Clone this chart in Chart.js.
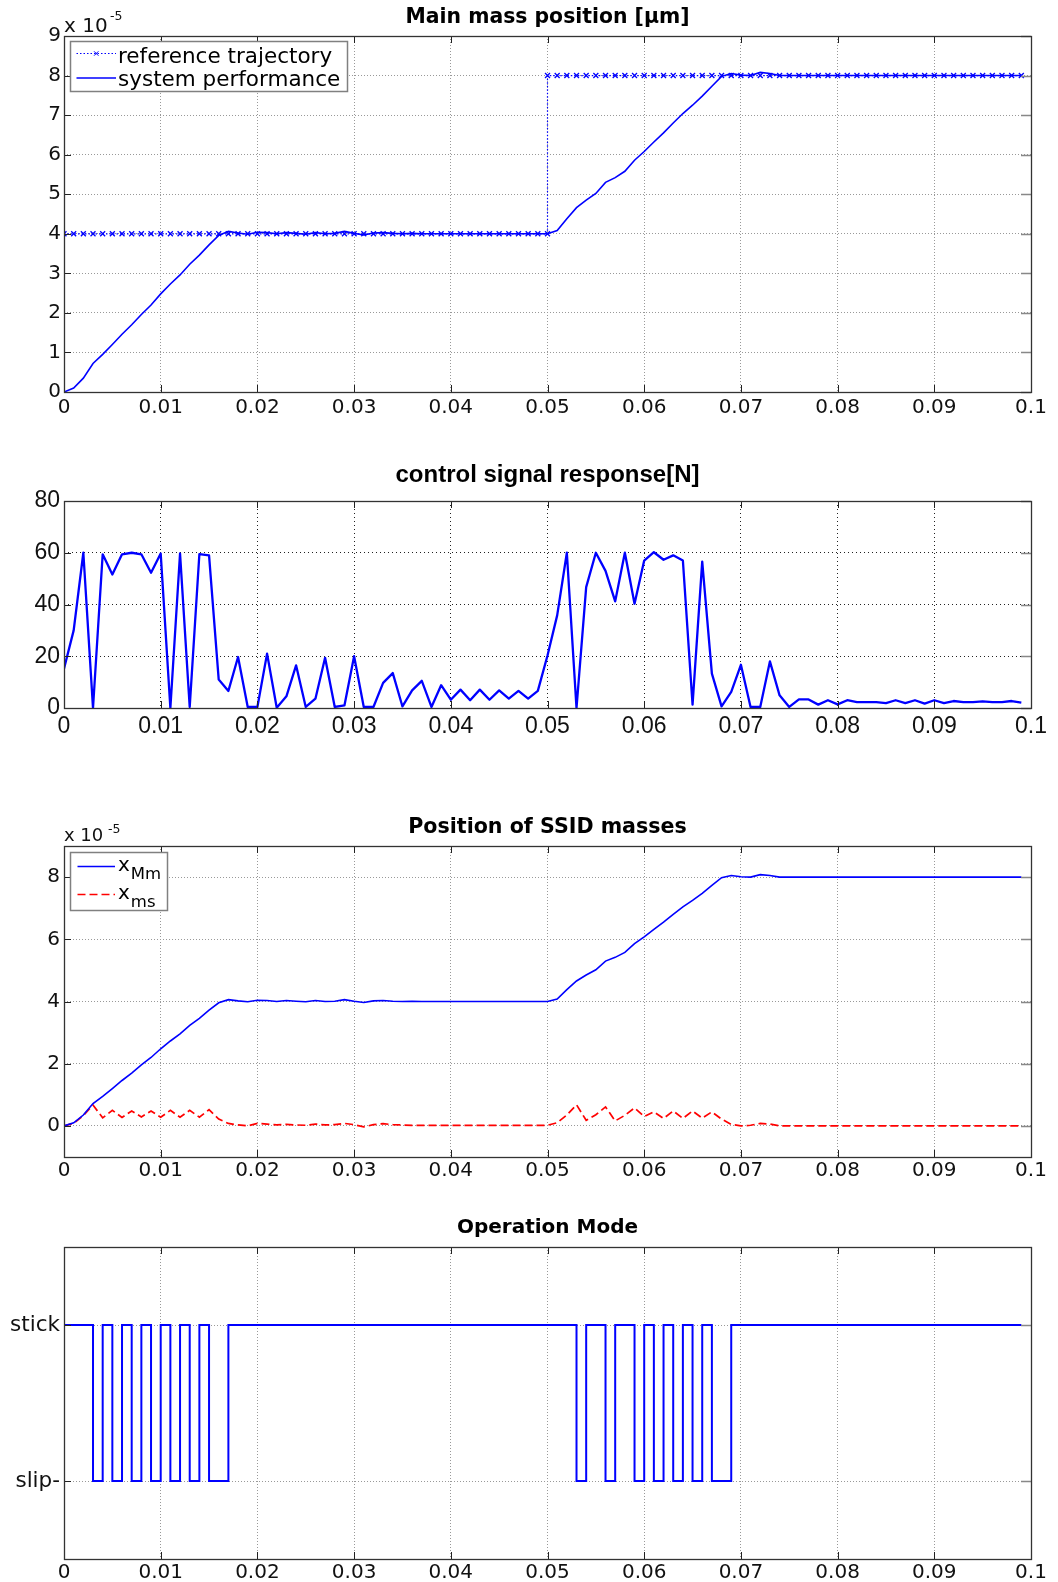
<!DOCTYPE html>
<html>
<head>
<meta charset="utf-8">
<title>SSID stick-slip simulation</title>
<script src="https://cdn.jsdelivr.net/npm/chart.js@4.4.0/dist/chart.umd.min.js"></script>
<style>
  html, body { margin: 0; padding: 0; background: #ffffff; overflow: hidden; }
  .panel { position: absolute; left: 0; width: 1058px; }
  .panel canvas { display: block; }
</style>
</head>
<body>
<div class="panel" style="top:0px;height:430px"><canvas id="mainMass"></canvas></div>
<div class="panel" style="top:440px;height:300px"><canvas id="control"></canvas></div>
<div class="panel" style="top:790px;height:400px"><canvas id="masses"></canvas></div>
<div class="panel" style="top:1200px;height:382px"><canvas id="mode"></canvas></div>
<script>
// ---- simulation samples (time in s) ----
const sampleTimes = [
  0.000, 0.001, 0.002, 0.003, 0.004, 0.005, 0.006, 0.007, 0.008, 0.009,
  0.010, 0.011, 0.012, 0.013, 0.014, 0.015, 0.016, 0.017, 0.018, 0.019,
  0.020, 0.021, 0.022, 0.023, 0.024, 0.025, 0.026, 0.027, 0.028, 0.029,
  0.030, 0.031, 0.032, 0.033, 0.034, 0.035, 0.036, 0.037, 0.038, 0.039,
  0.040, 0.041, 0.042, 0.043, 0.044, 0.045, 0.046, 0.047, 0.048, 0.049,
  0.050, 0.051, 0.052, 0.053, 0.054, 0.055, 0.056, 0.057, 0.058, 0.059,
  0.060, 0.061, 0.062, 0.063, 0.064, 0.065, 0.066, 0.067, 0.068, 0.069,
  0.070, 0.071, 0.072, 0.073, 0.074, 0.075, 0.076, 0.077, 0.078, 0.079,
  0.080, 0.081, 0.082, 0.083, 0.084, 0.085, 0.086, 0.087, 0.088, 0.089,
  0.090, 0.091, 0.092, 0.093, 0.094, 0.095, 0.096, 0.097, 0.098, 0.099
];

// main mass position x_Mm (units of 1e-5)
const mainMassPos = [
  0.00, 0.10, 0.35, 0.72, 0.95, 1.20, 1.46, 1.70, 1.96, 2.20,
  2.48, 2.73, 2.96, 3.23, 3.46, 3.72, 3.96, 4.06, 4.02, 3.99,
  4.04, 4.03, 4.00, 4.03, 4.01, 3.99, 4.03, 4.00, 4.01, 4.06,
  4.01, 3.97, 4.02, 4.03, 4.01, 4.00, 4.01, 4.00, 4.00, 4.00,
  4.00, 4.00, 4.00, 4.00, 4.00, 4.00, 4.00, 4.00, 4.00, 4.00,
  4.00, 4.08, 4.38, 4.66, 4.85, 5.02, 5.30, 5.42, 5.58, 5.86,
  6.08, 6.32, 6.55, 6.80, 7.04, 7.25, 7.48, 7.73, 7.98, 8.05,
  8.01, 8.00, 8.08, 8.05, 8.00, 8.00, 8.00, 8.00, 8.00, 8.00,
  8.00, 8.00, 8.00, 8.00, 8.00, 8.00, 8.00, 8.00, 8.00, 8.00,
  8.00, 8.00, 8.00, 8.00, 8.00, 8.00, 8.00, 8.00, 8.00, 8.00
];

// secondary mass position x_ms (units of 1e-5)
const slaveMassPos = [
  0.00, 0.08, 0.33, 0.67, 0.26, 0.50, 0.27, 0.48, 0.29, 0.48,
  0.28, 0.50, 0.28, 0.50, 0.28, 0.52, 0.22, 0.08, 0.03, 0.00,
  0.08, 0.06, 0.03, 0.05, 0.03, 0.02, 0.06, 0.03, 0.04, 0.08,
  0.04, -0.03, 0.04, 0.07, 0.04, 0.03, 0.02, 0.02, 0.02, 0.02,
  0.02, 0.02, 0.02, 0.02, 0.02, 0.02, 0.02, 0.02, 0.02, 0.02,
  0.02, 0.10, 0.35, 0.68, 0.18, 0.36, 0.61, 0.16, 0.34, 0.58,
  0.30, 0.45, 0.24, 0.48, 0.24, 0.48, 0.25, 0.45, 0.22, 0.05,
  0.00, 0.02, 0.08, 0.06, 0.00, 0.00, 0.00, 0.00, 0.00, 0.00,
  0.00, 0.00, 0.00, 0.00, 0.00, 0.00, 0.00, 0.00, 0.00, 0.00,
  0.00, 0.00, 0.00, 0.00, 0.00, 0.00, 0.00, 0.00, 0.00, 0.00
];

// reference trajectory: step from 4 to 8 (x 1e-5) at t = 0.05
const refTimes = sampleTimes.slice(0, 51).concat(sampleTimes.slice(50));
const refPosition = [
  4, 4, 4, 4, 4, 4, 4, 4, 4, 4,
  4, 4, 4, 4, 4, 4, 4, 4, 4, 4,
  4, 4, 4, 4, 4, 4, 4, 4, 4, 4,
  4, 4, 4, 4, 4, 4, 4, 4, 4, 4,
  4, 4, 4, 4, 4, 4, 4, 4, 4, 4,
  4,
  8, 8, 8, 8, 8, 8, 8, 8, 8, 8,
  8, 8, 8, 8, 8, 8, 8, 8, 8, 8,
  8, 8, 8, 8, 8, 8, 8, 8, 8, 8,
  8, 8, 8, 8, 8, 8, 8, 8, 8, 8,
  8, 8, 8, 8, 8, 8, 8, 8, 8, 8
];

// control force [N]
const controlForce = [
  15.2, 30.0, 60.0, 0.0, 59.4, 51.6, 59.4, 60.0, 59.4, 52.3,
  59.7, 0.0, 59.7, 0.4, 59.5, 59.0, 11.0, 6.6, 19.7, 0.4,
  0.4, 21.0, 0.1, 4.5, 16.5, 0.4, 3.6, 19.4, 0.4, 1.0,
  20.0, 0.4, 0.4, 9.7, 13.5, 0.6, 6.8, 10.5, 0.4, 8.8,
  3.2, 7.1, 3.0, 7.1, 3.2, 6.8, 3.6, 6.6, 3.6, 6.6,
  20.3, 35.8, 60.0, 0.0, 46.7, 60.0, 53.0, 41.2, 60.0, 40.3,
  57.0, 60.2, 57.3, 59.0, 57.0, 1.3, 56.6, 13.3, 0.6, 6.2,
  16.7, 0.4, 0.4, 18.0, 4.9, 0.4, 3.3, 3.3, 1.3, 3.0,
  1.4, 3.0, 2.3, 2.3, 2.3, 1.9, 3.0, 1.9, 3.0, 1.7,
  3.0, 1.9, 2.7, 2.3, 2.3, 2.6, 2.3, 2.3, 2.7, 2.1
];

// operation mode: 1 = stick, 0 = slip
const operationMode = [
  1, 1, 1, 0, 1, 0, 1, 0, 1, 0,
  1, 0, 1, 0, 1, 0, 0, 1, 1, 1,
  1, 1, 1, 1, 1, 1, 1, 1, 1, 1,
  1, 1, 1, 1, 1, 1, 1, 1, 1, 1,
  1, 1, 1, 1, 1, 1, 1, 1, 1, 1,
  1, 1, 1, 0, 1, 1, 0, 1, 1, 0,
  1, 0, 1, 0, 1, 0, 1, 0, 0, 1,
  1, 1, 1, 1, 1, 1, 1, 1, 1, 1,
  1, 1, 1, 1, 1, 1, 1, 1, 1, 1,
  1, 1, 1, 1, 1, 1, 1, 1, 1, 1
];

// ---- tick values and labels ----
const xTickValues = [0, 0.01, 0.02, 0.03, 0.04, 0.05, 0.06, 0.07, 0.08, 0.09, 0.1];
const xTickLabels = ['0', '0.01', '0.02', '0.03', '0.04', '0.05', '0.06', '0.07', '0.08', '0.09', '0.1'];
const mainTickValues = [0, 1, 2, 3, 4, 5, 6, 7, 8, 9];
const mainTickLabels = ['0', '1', '2', '3', '4', '5', '6', '7', '8', '9'];
const forceTickValues = [0, 20, 40, 60, 80];
const forceTickLabels = ['0', '20', '40', '60', '80'];
const massTickValues = [0, 2, 4, 6, 8];
const massTickLabels = ['0', '2', '4', '6', '8'];
const modeTickValues = [0, 1];
const modeTickLabels = ['slip-', 'stick'];

// ---- styling helpers ----
const WIDE = "'DejaVu Sans', sans-serif";
const PLAIN = "'Liberation Sans', Arial, sans-serif";
const BLUE = '#0000ff';
const RED = '#ff0000';
const TICK_LEN = 7;
const PAD_RIGHT = 27;

function points(xs, ys) {
  return xs.map((t, i) => ({ x: t, y: ys[i] }));
}

function xAxis(family, size, pad, height, gridColor, dash) {
  return {
    type: 'linear', min: 0, max: 0.1,
    afterBuildTicks: s => { s.ticks = xTickValues.map(v => ({ value: v })); },
    afterFit: s => { s.height = height; },
    ticks: {
      callback: (v, i) => xTickLabels[i],
      font: { family, size }, color: '#111', padding: pad,
      maxRotation: 0, minRotation: 0, autoSkip: false
    },
    grid: { color: gridColor, lineWidth: 1, drawTicks: false },
    border: { display: false, dash }
  };
}

function yAxis(min, max, values, labels, family, size, pad, gridColor, dash) {
  return {
    type: 'linear', min, max,
    afterBuildTicks: s => { s.ticks = values.map(v => ({ value: v })); },
    afterFit: s => { s.width = 64; },
    ticks: {
      callback: (v, i) => labels[i],
      font: { family, size }, color: '#111', padding: pad, autoSkip: false
    },
    grid: { color: gridColor, lineWidth: 1, drawTicks: false },
    border: { display: false, dash }
  };
}

// Axes box, inward tick marks, title, exponent note and legend
function decorations(spec) {
  return {
    id: 'decor',
    afterDraw(chart) {
      const { ctx, chartArea: a, scales } = chart;
      const xs = scales.x, ys = scales.y;
      ctx.save();

      ctx.lineWidth = 1;
      ctx.strokeStyle = '#222';
      ctx.beginPath();
      xs.ticks.forEach(t => {
        const px = Math.round(xs.getPixelForValue(t.value)) + 0.5;
        ctx.moveTo(px, a.top); ctx.lineTo(px, a.top + TICK_LEN);
        ctx.moveTo(px, a.bottom); ctx.lineTo(px, a.bottom - TICK_LEN);
      });
      ys.ticks.forEach(t => {
        const py = Math.round(ys.getPixelForValue(t.value)) + 0.5;
        ctx.moveTo(a.left, py); ctx.lineTo(a.left + TICK_LEN, py);
      });
      ctx.stroke();
      ctx.strokeStyle = '#888';
      ctx.lineWidth = 1.5;
      ctx.beginPath();
      ys.ticks.forEach(t => {
        const py = Math.round(ys.getPixelForValue(t.value)) + 0.5;
        ctx.moveTo(a.right, py); ctx.lineTo(a.right - TICK_LEN - 3, py);
      });
      ctx.stroke();

      ctx.strokeStyle = '#333';
      ctx.lineWidth = 1.3;
      ctx.strokeRect(Math.round(a.left) + 0.5, Math.round(a.top) + 0.5,
                     Math.round(a.right - a.left), Math.round(a.bottom - a.top));

      ctx.fillStyle = '#000';
      ctx.textBaseline = 'alphabetic';
      ctx.textAlign = 'center';
      ctx.font = spec.titleFont;
      ctx.fillText(spec.title, (a.left + a.right) / 2, spec.titleY);

      if (spec.exponent) {
        const e = spec.exponent;
        ctx.textAlign = 'left';
        ctx.font = e.font;
        ctx.fillStyle = '#111';
        ctx.fillText('x 10', e.x, e.y);
        ctx.font = e.supFont;
        ctx.fillText('-5', e.supX, e.supY);
      }

      if (spec.legend) {
        const L = spec.legend;
        ctx.fillStyle = '#fff';
        ctx.fillRect(L.x, L.y, L.w, L.h);
        ctx.strokeStyle = '#808080';
        ctx.lineWidth = 1.5;
        ctx.strokeRect(L.x, L.y, L.w, L.h);
        chart.data.datasets.forEach((ds, i) => {
          const row = L.rows[i];
          ctx.save();
          ctx.strokeStyle = ds.borderColor;
          ctx.lineWidth = ds.borderWidth;
          ctx.setLineDash(ds.borderDash || []);
          ctx.beginPath();
          ctx.moveTo(L.lineX0, row.lineY);
          ctx.lineTo(L.lineX1, row.lineY);
          ctx.stroke();
          ctx.setLineDash([]);
          if (ds.pointStyle === 'crossRot') {
            const cx = (L.lineX0 + L.lineX1) / 2, r = 2.2;
            ctx.lineWidth = 1;
            ctx.beginPath();
            ctx.moveTo(cx - r, row.lineY - r); ctx.lineTo(cx + r, row.lineY + r);
            ctx.moveTo(cx - r, row.lineY + r); ctx.lineTo(cx + r, row.lineY - r);
            ctx.stroke();
          }
          ctx.restore();
          ctx.fillStyle = '#000';
          ctx.textAlign = 'left';
          const parts = ds.label.split('_');
          ctx.font = L.font;
          ctx.fillText(parts[0], L.textX, row.textY);
          if (parts[1]) {
            const w = ctx.measureText(parts[0]).width;
            ctx.font = L.subFont;
            ctx.fillText(parts[1], L.textX + w + 1, row.subY);
          }
        });
      }
      ctx.restore();
    }
  };
}

Chart.defaults.animation = false;
Chart.defaults.color = '#111';

const commonOptions = (padding, scales) => ({
  responsive: true,
  maintainAspectRatio: false,
  devicePixelRatio: 1,
  animation: false,
  layout: { padding },
  plugins: { legend: { display: false }, title: { display: false }, tooltip: { enabled: false } },
  elements: { line: { tension: 0 } },
  scales
});

// ---- 1: main mass position ----
new Chart(document.getElementById('mainMass'), {
  type: 'line',
  data: {
    datasets: [
      {
        label: 'reference trajectory',
        data: points(refTimes, refPosition),
        borderColor: BLUE, borderWidth: 1.2, borderDash: [1.5, 2],
        pointStyle: 'crossRot', pointRadius: 3.5, pointBorderWidth: 1.3,
        pointBorderColor: BLUE, pointBackgroundColor: BLUE, fill: false
      },
      {
        label: 'system performance',
        data: points(sampleTimes, mainMassPos),
        borderColor: BLUE, borderWidth: 1.6, pointRadius: 0, fill: false
      }
    ]
  },
  options: commonOptions({ left: 0, right: PAD_RIGHT, top: 36, bottom: 8 }, {
    x: xAxis(WIDE, 20, 4, 30, '#999', [1, 2]),
    y: yAxis(0, 9, mainTickValues, mainTickLabels, WIDE, 20, 3, '#999', [1, 2])
  }),
  plugins: [decorations({
    title: 'Main mass position [\u03bcm]', titleFont: "bold 20.4px 'DejaVu Sans'", titleY: 23,
    exponent: { font: "20px 'DejaVu Sans'", x: 64, y: 31.7, supFont: "12.5px 'DejaVu Sans'", supX: 110, supY: 20 },
    legend: {
      x: 70.5, y: 41.5, w: 277, h: 50, lineX0: 76.5, lineX1: 116, textX: 118,
      font: "21.5px 'DejaVu Sans'", subFont: "15px 'DejaVu Sans'",
      rows: [{ lineY: 53.5, textY: 63 }, { lineY: 78, textY: 86 }]
    }
  })]
});

// ---- 2: control signal ----
new Chart(document.getElementById('control'), {
  type: 'line',
  data: {
    datasets: [{
      label: 'control signal',
      data: points(sampleTimes, controlForce),
      borderColor: BLUE, borderWidth: 2.3, borderJoinStyle: 'round',
      pointRadius: 0, fill: false
    }]
  },
  options: commonOptions({ left: 0, right: PAD_RIGHT, top: 61, bottom: 2 }, {
    x: xAxis(PLAIN, 23, 5, 30, '#222', [1, 3]),
    y: yAxis(0, 80, forceTickValues, forceTickLabels, PLAIN, 23, 4, '#222', [1, 3])
  }),
  plugins: [decorations({
    title: 'control signal response[N]', titleFont: "bold 24px 'Liberation Sans'", titleY: 41.7
  })]
});

// ---- 3: positions of the SSID masses ----
new Chart(document.getElementById('masses'), {
  type: 'line',
  data: {
    datasets: [
      {
        label: 'x_Mm',
        data: points(sampleTimes, mainMassPos),
        borderColor: BLUE, borderWidth: 1.6, pointRadius: 0, fill: false
      },
      {
        label: 'x_ms',
        data: points(sampleTimes, slaveMassPos),
        borderColor: RED, borderWidth: 1.7, borderDash: [8, 4], pointRadius: 0, fill: false
      }
    ]
  },
  options: commonOptions({ left: 0, right: PAD_RIGHT, top: 56, bottom: 3 }, {
    x: xAxis(WIDE, 20, 2, 30, '#999', [1, 2]),
    y: yAxis(-1, 9, massTickValues, massTickLabels, WIDE, 20, 4, '#999', [1, 2])
  }),
  plugins: [decorations({
    title: 'Position of SSID masses', titleFont: "bold 20.6px 'DejaVu Sans'", titleY: 42.7,
    exponent: { font: "18px 'DejaVu Sans'", x: 64, y: 51, supFont: "12.5px 'DejaVu Sans'", supX: 108, supY: 43 },
    legend: {
      x: 70.5, y: 62.5, w: 97, h: 58, lineX0: 77.5, lineX1: 115, textX: 118,
      font: "20px 'DejaVu Sans'", subFont: "16.5px 'DejaVu Sans'",
      rows: [{ lineY: 76.5, textY: 81, subY: 89 }, { lineY: 104.5, textY: 108.5, subY: 116.5 }]
    }
  })]
});

// ---- 4: operation mode ----
new Chart(document.getElementById('mode'), {
  type: 'line',
  data: {
    datasets: [{
      label: 'operation mode',
      data: points(sampleTimes, operationMode),
      borderColor: BLUE, borderWidth: 2, pointRadius: 0, stepped: 'before', fill: false
    }]
  },
  options: commonOptions({ left: 0, right: PAD_RIGHT, top: 47, bottom: 1 }, {
    x: xAxis(WIDE, 20, 2, 22, '#999', [1, 2]),
    y: yAxis(-0.5, 1.5, modeTickValues, modeTickLabels, WIDE, 21.5, 4, '#999', [1, 2])
  }),
  plugins: [decorations({
    title: 'Operation Mode', titleFont: "bold 20px 'DejaVu Sans'", titleY: 33.3
  })]
});
</script>
</body>
</html>
